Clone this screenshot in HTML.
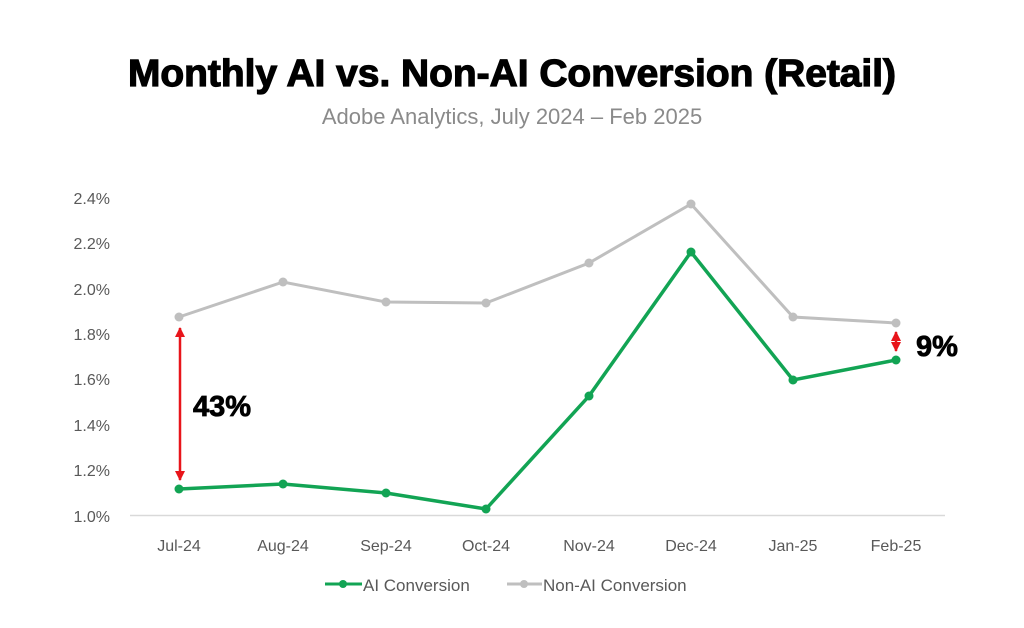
<!DOCTYPE html>
<html><head><meta charset="utf-8"><style>
html,body{margin:0;padding:0;background:#fff;}
svg{display:block;}
</style></head><body>
<svg width="1024" height="628" viewBox="0 0 1024 628" xmlns="http://www.w3.org/2000/svg" font-family="Liberation Sans, sans-serif">
<defs>
<marker id="ah" viewBox="0 0 10 10" refX="9" refY="5" markerWidth="4" markerHeight="4" orient="auto-start-reverse"><path d="M0,0 L10,5 L0,10 z" fill="#e8141a"/></marker>
</defs>
<text x="128" y="86" textLength="768" lengthAdjust="spacingAndGlyphs" font-size="38" font-weight="bold" fill="#000" stroke="#000" stroke-width="1.2">Monthly AI vs. Non-AI Conversion (Retail)</text>
<text x="512" y="124" text-anchor="middle" font-size="22" fill="#8a8a8a">Adobe Analytics, July 2024 – Feb 2025</text>
<g font-size="16" fill="#595959" text-anchor="end">
<text x="110" y="204">2.4%</text>
<text x="110" y="249">2.2%</text>
<text x="110" y="295">2.0%</text>
<text x="110" y="340">1.8%</text>
<text x="110" y="385">1.6%</text>
<text x="110" y="431">1.4%</text>
<text x="110" y="476">1.2%</text>
<text x="110" y="522">1.0%</text>
</g>
<line x1="130" y1="515.5" x2="945" y2="515.5" stroke="#d9d9d9" stroke-width="1.5"/>
<g font-size="16" fill="#595959" text-anchor="middle">
<text x="179" y="551">Jul-24</text><text x="283" y="551">Aug-24</text><text x="386" y="551">Sep-24</text><text x="486" y="551">Oct-24</text>
<text x="589" y="551">Nov-24</text><text x="691" y="551">Dec-24</text><text x="793" y="551">Jan-25</text><text x="896" y="551">Feb-25</text>
</g>
<polyline fill="none" stroke="#bfbfbf" stroke-width="3" points="179,317 283,282 386,302 486,303 589,263 691,204 793,317 896,323"/>
<g fill="#bfbfbf"><circle cx="179" cy="317" r="4.5"/><circle cx="283" cy="282" r="4.5"/><circle cx="386" cy="302" r="4.5"/><circle cx="486" cy="303" r="4.5"/><circle cx="589" cy="263" r="4.5"/><circle cx="691" cy="204" r="4.5"/><circle cx="793" cy="317" r="4.5"/><circle cx="896" cy="323" r="4.5"/></g>
<polyline fill="none" stroke="#12a454" stroke-width="3.5" points="179,489 283,484 386,493 486,509 589,396 691,252 793,380 896,360"/>
<g fill="#12a454"><circle cx="179" cy="489" r="4.5"/><circle cx="283" cy="484" r="4.5"/><circle cx="386" cy="493" r="4.5"/><circle cx="486" cy="509" r="4.5"/><circle cx="589" cy="396" r="4.5"/><circle cx="691" cy="252" r="4.5"/><circle cx="793" cy="380" r="4.5"/><circle cx="896" cy="360" r="4.5"/></g>
<line x1="180" y1="328" x2="180" y2="480" stroke="#e8141a" stroke-width="2.5" marker-start="url(#ah)" marker-end="url(#ah)"/>
<line x1="896" y1="332" x2="896" y2="351" stroke="#e8141a" stroke-width="2.5" marker-start="url(#ah)" marker-end="url(#ah)"/>
<text x="193" y="416" font-size="29" font-weight="bold" fill="#000" stroke="#000" stroke-width="0.8">43%</text>
<text x="916" y="356" font-size="29" font-weight="bold" fill="#000" stroke="#000" stroke-width="0.8">9%</text>
<line x1="325" y1="584" x2="362" y2="584" stroke="#12a454" stroke-width="3"/><circle cx="343" cy="584" r="4" fill="#12a454"/>
<text x="363" y="591" font-size="17" fill="#595959">AI Conversion</text>
<line x1="507" y1="584" x2="542" y2="584" stroke="#bfbfbf" stroke-width="3"/><circle cx="524" cy="584" r="4" fill="#bfbfbf"/>
<text x="543" y="591" font-size="17" fill="#595959">Non-AI Conversion</text>
</svg>
</body></html>
